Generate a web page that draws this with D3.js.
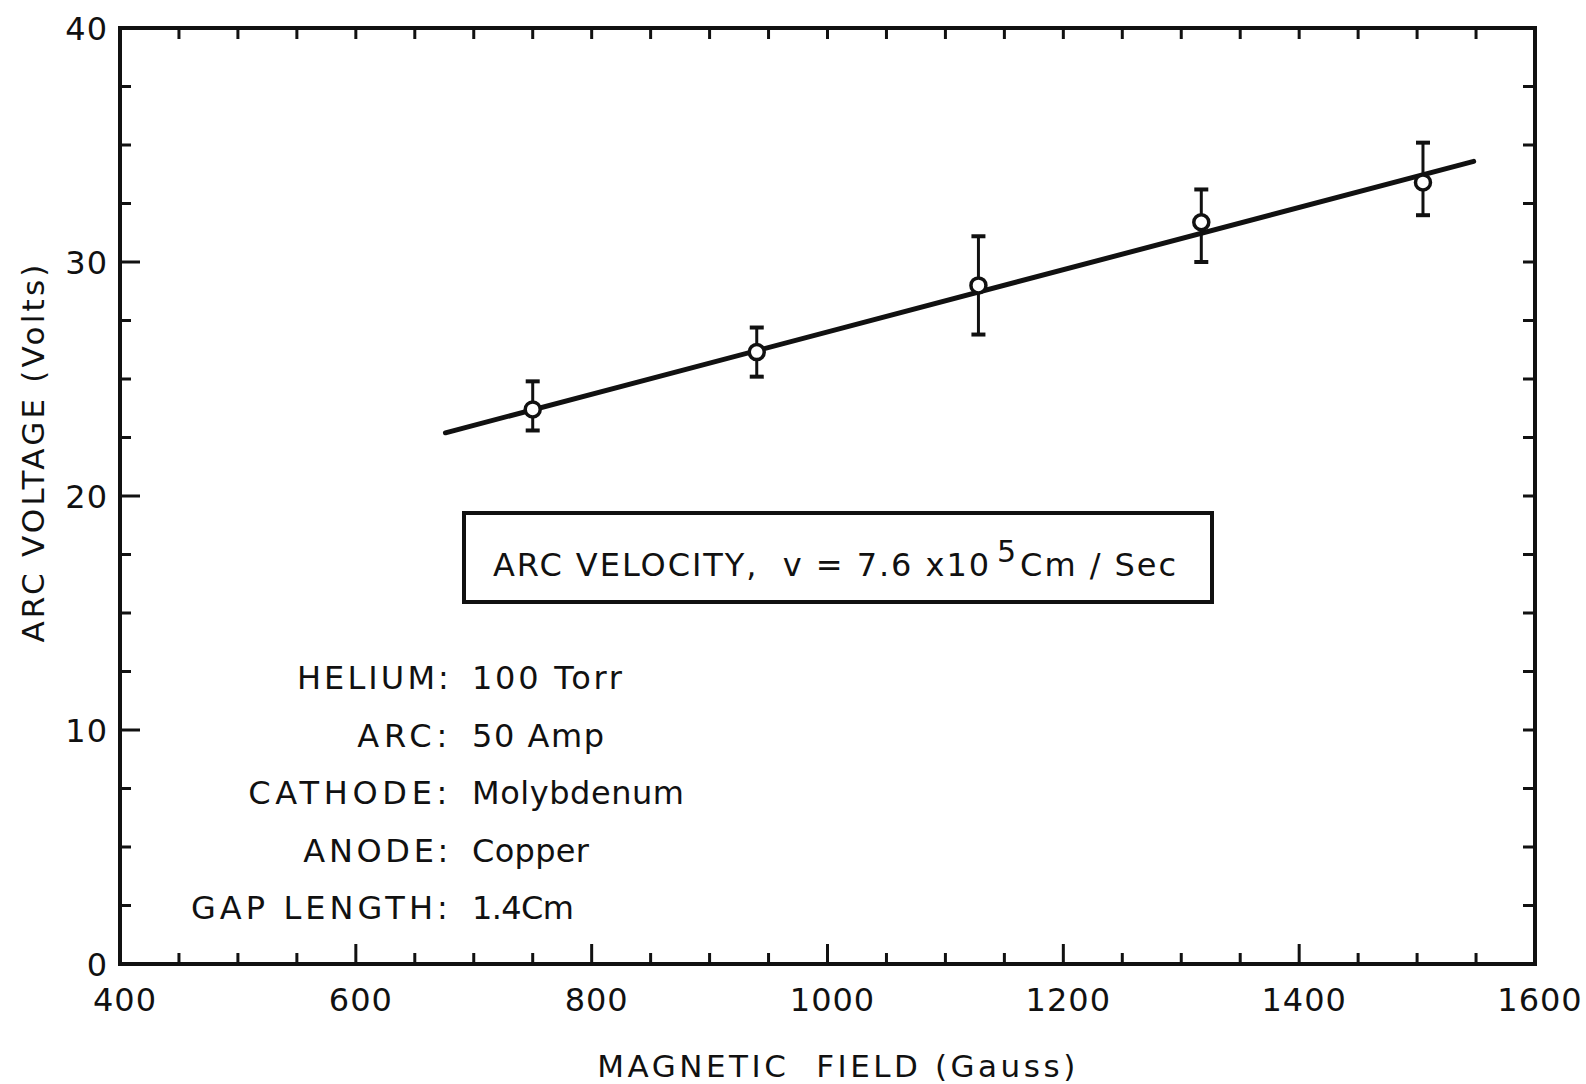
<!DOCTYPE html>
<html>
<head>
<meta charset="utf-8">
<script src="https://cdn.jsdelivr.net/npm/d3@7"></script>
<style>
  html, body { margin: 0; padding: 0; background: #fff; }
  svg { display: block; }
  text { font-family: "DejaVu Sans", sans-serif; fill: #111; }
</style>
</head>
<body>
<svg id="chart" width="1586" height="1084"></svg>
<script>
// ---- data ----
const field   = [750, 940, 1128, 1317, 1505];          // Gauss
const voltage = [23.7, 26.15, 29.0, 31.7, 33.4];       // Volts
const errLow  = [22.8, 25.1, 26.9, 30.0, 32.0];
const errHigh = [24.9, 27.2, 31.1, 33.1, 35.1];
const fitLineX = [676, 1548];
const fitLineY = [22.7, 34.3];
const xTicks = [400, 600, 800, 1000, 1200, 1400, 1600];
const yTicks = [0, 10, 20, 30, 40];
const infoLabels = ["HELIUM:", "ARC:", "CATHODE:", "ANODE:", "GAP LENGTH:"];
const infoValues = ["100 Torr", "50 Amp", "Molybdenum", "Copper", "1.4Cm"];

// ---- layout ----
const svg = d3.select("#chart");
const L = 120, R = 1535, T = 28, B = 964;
const x = d3.scaleLinear().domain([400, 1600]).range([L, R]);
const y = d3.scaleLinear().domain([0, 40]).range([B, T]);
const ink = "#111";

function fit(sel, target) {
  const node = sel.node();
  const n = sel.text().length;
  sel.attr("letter-spacing", 0);
  const w = node.getComputedTextLength();
  sel.attr("letter-spacing", (target - w) / Math.max(1, n - 1));
}

// frame
svg.append("rect").attr("x", L).attr("y", T).attr("width", R - L).attr("height", B - T)
  .attr("fill", "none").attr("stroke", ink).attr("stroke-width", 4);

// ticks (inward, all sides)
const xMinor = d3.range(400, 1601, 50);
const yMinor = d3.range(0, 40.01, 2.5);
const isMajX = v => v % 200 === 0;
const isMajY = v => v % 10 === 0;
const tg = svg.append("g").attr("stroke", ink).attr("stroke-width", 3);
xMinor.filter(v => v > 400 && v < 1600).forEach(v => {
  const len = isMajX(v) ? 20 : 11;
  tg.append("line").attr("x1", x(v)).attr("x2", x(v)).attr("y1", B).attr("y2", B - len);
  tg.append("line").attr("x1", x(v)).attr("x2", x(v)).attr("y1", T).attr("y2", T + 11);
});
yMinor.filter(v => v > 0 && v < 40).forEach(v => {
  const len = isMajY(v) ? 20 : 11;
  tg.append("line").attr("x1", L).attr("x2", L + len).attr("y1", y(v)).attr("y2", y(v));
  tg.append("line").attr("x1", R).attr("x2", R - 12).attr("y1", y(v)).attr("y2", y(v));
});

// tick labels
svg.append("g").selectAll("text").data(xTicks).join("text")
  .attr("x", d => x(d) + 5).attr("y", 1011).attr("text-anchor", "middle")
  .attr("font-size", 32).attr("letter-spacing", 1).text(d => d);
svg.append("g").selectAll("text").data(yTicks).join("text")
  .attr("x", 108).attr("y", d => y(d) + 12).attr("text-anchor", "end")
  .attr("font-size", 32).attr("letter-spacing", 1).text(d => d);

// axis titles
const yt = svg.append("text").attr("transform", "translate(44,452) rotate(-90)")
  .attr("text-anchor", "middle").attr("font-size", 31).text("ARC VOLTAGE (Volts)");
fit(yt, 378);
const xt = svg.append("text").attr("x", 838).attr("y", 1077)
  .attr("text-anchor", "middle").attr("font-size", 31)
  .style("white-space", "pre").text("MAGNETIC  FIELD (Gauss)");
fit(xt, 478);

// fit line
svg.append("line")
  .attr("x1", x(fitLineX[0])).attr("y1", y(fitLineY[0]))
  .attr("x2", x(fitLineX[1])).attr("y2", y(fitLineY[1]))
  .attr("stroke", ink).attr("stroke-width", 5).attr("stroke-linecap", "round");

// error bars
const pts = field.map((f, i) => ({f, v: voltage[i], lo: errLow[i], hi: errHigh[i]}));
const eg = svg.append("g").attr("stroke", ink).attr("stroke-width", 3);
pts.forEach(p => {
  eg.append("line").attr("x1", x(p.f)).attr("x2", x(p.f)).attr("y1", y(p.lo)).attr("y2", y(p.hi));
  [p.lo, p.hi].forEach(e => eg.append("line").attr("stroke-width", 4)
    .attr("x1", x(p.f) - 7).attr("x2", x(p.f) + 7).attr("y1", y(e)).attr("y2", y(e)));
});
svg.append("g").selectAll("circle").data(pts).join("circle")
  .attr("cx", d => x(d.f)).attr("cy", d => y(d.v)).attr("r", 7.5)
  .attr("fill", "#fff").attr("stroke", ink).attr("stroke-width", 3.5);

// velocity box
svg.append("rect").attr("x", 464).attr("y", 513).attr("width", 748).attr("height", 89)
  .attr("fill", "none").attr("stroke", ink).attr("stroke-width", 4);
const bt = svg.append("text").attr("x", 493).attr("y", 576).attr("font-size", 32);
bt.append("tspan").style("white-space", "pre").text("ARC VELOCITY,  v = 7.6 x10");
bt.append("tspan").attr("dy", -14).attr("font-size", 30).attr("dx", 6).text("5");
bt.append("tspan").attr("dy", 14).attr("dx", 2).style("white-space", "pre").text("Cm / Sec");
(function () {
  const target = 683;
  const n = "ARC VELOCITY,  v = 7.6 x10".length + 1 + "Cm / Sec".length;
  bt.attr("letter-spacing", 0);
  const w = bt.node().getBBox().width;
  bt.attr("letter-spacing", (target - w) / (n - 1));
})();

// info block
const rowY0 = 689, rowStep = 57.5;
const labelEnd = 452, valueStart = 472;
const labelWidths = [152, 90, 199, 145, 257];
const valueWidths = [150, 132, 212, 117, 102];
infoLabels.forEach((lab, i) => {
  const t = svg.append("text").attr("x", labelEnd).attr("y", rowY0 + i * rowStep)
    .attr("text-anchor", "end").attr("font-size", 32).style("white-space", "pre").text(lab);
  fit(t, labelWidths[i]);
  const v = svg.append("text").attr("x", valueStart).attr("y", rowY0 + i * rowStep)
    .attr("font-size", 32).text(infoValues[i]);
  fit(v, valueWidths[i]);
});
</script>
</body>
</html>
